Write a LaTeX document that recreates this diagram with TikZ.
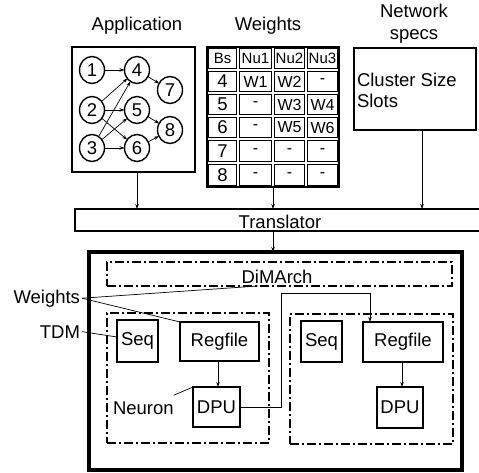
\documentclass[tikz,border=0pt]{standalone}
\usepackage{fontspec}
\setmainfont{Liberation Sans}
\usetikzlibrary{shapes.geometric,arrows.meta,calc,fit}
\newcommand\tcell[6]{\node[cell, fit={({#2+1.3},{#4+1.3})({#3-1.3},{#5-1.3})}, label={center:#6}] (#1) {};}
\begin{document}
\begin{tikzpicture}[x=1pt,y=-1pt,
  every node/.style={inner sep=0pt, outer sep=0pt},
  font=\fontsize{18.5}{22}\selectfont,
  blk/.style={draw, line width=1.6pt},
  nd/.style={draw, ellipse, line width=1.4pt, minimum width=25pt, minimum height=27pt},
  arr/.style={-{Stealth[length=5pt,width=3.5pt]}, line width=0.7pt},
  ln/.style={line width=0.7pt},
  dd/.style={draw, line width=1.6pt, dash pattern=on 9pt off 3pt on 2pt off 3pt},
  cell/.style={draw, line width=1.3pt},
]
\useasboundingbox (0,0) rectangle (479,473);
% titles
\node[anchor=base] (tapp) at (137,31) {Application};
\node[anchor=base] (tw) at (268,31) {Weights};
\node[anchor=base] (tn1) at (414,18) {Network};
\node[anchor=base] (tn2) at (414,40) {specs};
% application graph
\node[fit={(72,47)(195,172)}, draw, line width=2pt] (app) {};
\node[nd] (n1) at (92,70) {1};
\node[nd] (n2) at (92,110) {2};
\node[nd] (n3) at (92,148) {3};
\node[nd] (n4) at (137,70) {4};
\node[nd] (n5) at (137,110) {5};
\node[nd] (n6) at (137,148) {6};
\node[nd] (n7) at (170,90) {7};
\node[nd] (n8) at (170,130) {8};
\foreach \a/\b in {1/4,2/4,2/5,2/6,3/4,3/5,3/6,4/7,5/8,6/8}
  \draw[arr] (n\a) -- (n\b);
% weights table
\tcell{c0a}{207}{238}{47}{70}{\fontsize{15}{18}\selectfont Bs}
\tcell{c0b}{238}{273}{47}{70}{\fontsize{15}{18}\selectfont Nu1}
\tcell{c0c}{273}{306}{47}{70}{\fontsize{15}{18}\selectfont Nu2}
\tcell{c0d}{306}{339}{47}{70}{\fontsize{15}{18}\selectfont Nu3}
\foreach \r/\ya/\yb/\ta/\tb/\tc/\td in {1/70/93/4/W1/W2/-, 2/93/116/5/-/W3/W4, 3/116/139/6/-/W5/W6, 4/139/163/7/-/-/-, 5/163/187/8/-/-/-}{
  \tcell{c\r a}{207}{238}{\ya}{\yb}{\fontsize{18.5}{20}\selectfont \ta}
  \tcell{c\r b}{238}{273}{\ya}{\yb}{\fontsize{16}{18}\selectfont \tb}
  \tcell{c\r c}{273}{306}{\ya}{\yb}{\fontsize{16}{18}\selectfont \tc}
  \tcell{c\r d}{306}{339}{\ya}{\yb}{\fontsize{16}{18}\selectfont \td}
}
\node[fit={(207,47)(339,187)}, draw, line width=1.5pt] (tab) {};
% network specs
\node[fit={(354,48)(476,130)}, draw, line width=1.6pt] (net) {};
\node[anchor=base west] (cs) at (357,87) {Cluster Size};
\node[anchor=base west] (sl) at (357,108) {Slots};
% translator
\node[fit={(75,209)(481,231)}, draw, line width=1.6pt] (trans) {};
\node[anchor=base] (ttr) at (280,228) {Translator};
\draw[arr] (app.south -| 137,0) -- (trans.north -| 137,0);
\draw[arr] (tab.south -| 273,0) -- (trans.north -| 273,0);
\draw[arr] (net.south -| 422,0) -- (trans.north -| 422,0);
% outer system
\node[fit={(89,252)(462,470)}, draw, line width=3.5pt] (outer) {};
\draw[arr] (trans.south -| 273,0) -- (outer.north -| 273,0);
\node[fit={(107,262)(452,286)}, dd] (dim) {};
\node[anchor=base] (tdim) at (277,283) {DiMArch};
\node[fit={(107,313)(269,443)}, dd] (neuL) {};
\node[fit={(290,314)(453,444)}, dd] (neuR) {};
% left neuron
\node[fit={(117,320)(158,362)}, blk, label=center:Seq] (seqL) {};
\node[fit={(180,322)(259,361)}, blk, label=center:Regfile] (regL) {};
\node[fit={(193,387)(240,427)}, blk, label=center:DPU] (dpuL) {};
\draw[arr] (regL.south -| 218,0) -- (dpuL.north -| 218,0);
% right neuron
\node[fit={(301,321)(342,362)}, blk, label=center:Seq] (seqR) {};
\node[fit={(363,322)(443,362)}, blk, label=center:Regfile] (regR) {};
\node[fit={(377,387)(423,428)}, blk, label=center:DPU] (dpuR) {};
\draw[arr] (regR.south -| 402,0) -- (dpuR.north -| 402,0);
% inter-neuron connector
\coordinate (bend) at (281,293);
\draw[arr] (dpuL.east) -| (bend) -| (regR.north -| 370,0);
% side labels
\node[anchor=base east] (lw) at (80,303) {Weights};
\node[anchor=base east] (ltdm) at (80,338) {TDM};
\node[anchor=base west] (lneu) at (113,414) {Neuron};
\draw[ln] ([xshift=2pt]lw.east) -- (dim.south -| 258,0);
\draw[ln] ([xshift=2pt]lw.east) -- (regL.north west);
\draw[ln] ([xshift=2pt]ltdm.east) -- ([yshift=4pt]seqL.west);
\draw[ln] ([xshift=0pt,yshift=6pt]lneu.north east) -- (dpuL.north west);
\end{tikzpicture}
\end{document}
